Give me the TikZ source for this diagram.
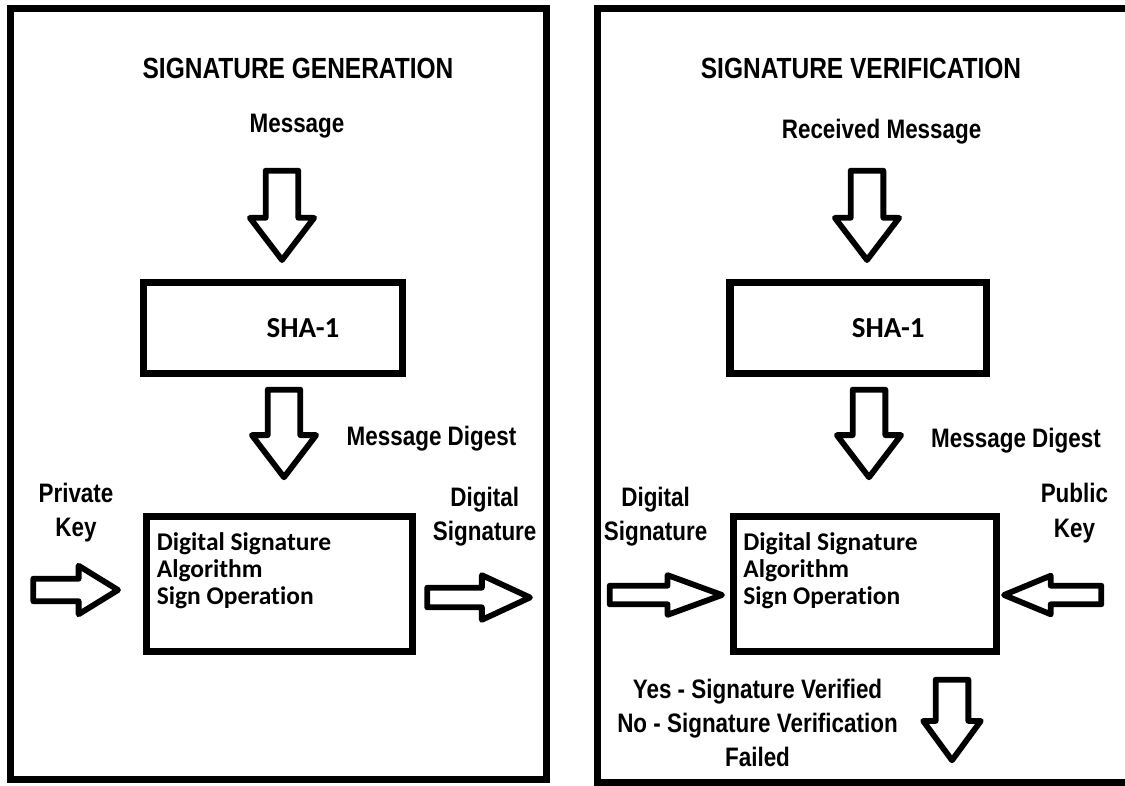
\documentclass[tikz,border=0pt]{standalone}
\usepackage{fontspec}
\setmainfont{Liberation Sans}
\newfontfamily\narrowfont[FakeStretch=0.84]{Liberation Sans}
\newfontfamily\calfont[Ligatures=NoCommon]{Carlito}
\usetikzlibrary{positioning,calc}

\begin{document}
\begin{tikzpicture}[x=0.02cm, y=-0.02cm,
  frame/.style={draw, line width=4.2pt},
  procbox/.style={draw, line width=4pt, inner sep=0pt,
                  font=\calfont\bfseries\fontsize{16.5}{18}\selectfont},
  boxtext/.style={inner sep=0pt, align=left,
                  font=\calfont\bfseries\fontsize{14.5}{15.4}\selectfont},
  title/.style={inner sep=0pt, font=\narrowfont\bfseries\fontsize{16.6}{20}\selectfont},
  lbl/.style={inner sep=0pt, align=center,
              font=\narrowfont\bfseries\fontsize{15.2}{19.5}\selectfont},
  fat/.style args={#1/#2/#3}{draw, line width=3.3pt, line join=round, to path={
    ($(\tikztostart)!#1!90:(\tikztotarget)$)
    -- ($(\tikztotarget)!#3!(\tikztostart) + (\tikztostart)!#1!90:(\tikztotarget) - (\tikztostart)$)
    -- ($(\tikztotarget)!#3!(\tikztostart) + (\tikztostart)!#2!90:(\tikztotarget) - (\tikztostart)$)
    -- (\tikztotarget)
    -- ($(\tikztotarget)!#3!(\tikztostart) + (\tikztostart)!#2!-90:(\tikztotarget) - (\tikztostart)$)
    -- ($(\tikztotarget)!#3!(\tikztostart) + (\tikztostart)!#1!-90:(\tikztotarget) - (\tikztostart)$)
    -- ($(\tikztostart)!#1!-90:(\tikztotarget)$) -- cycle}}]

\useasboundingbox (0,0) rectangle (1125,786);

% two panels
\draw[frame] (10.5,8.5) rectangle (546.5,779.5);
\draw[frame] (597.6,8.5) rectangle (1140,783);

% signature generation
\node[title] (gtitle) at (298,68.5) {SIGNATURE GENERATION};
\node[lbl] (gmsg) at (297,126) {Message};
\node[procbox, minimum width=5.18cm, minimum height=1.82cm] (gsha) at (273,328) {\hspace*{1.2cm}SHA-1};
\node[lbl] (gdig) at (431.5,439) {Message Digest};
\node[procbox, minimum width=5.31cm, minimum height=2.7cm] (gsign) at (279.7,584) {};
\node[boxtext, anchor=north west] (gsigntxt) at ($(gsign.north west)+(13,19)$)
  {Digital Signature\\Algorithm\\Sign Operation};
\node[lbl] (gpriv) at (76,512.5) {Private\\Key};
\node[lbl] (gsigout) at (484.7,516.5) {Digital\\Signature};

% signature verification
\node[title] (vtitle) at (861,68.5) {SIGNATURE VERIFICATION};
\node[lbl] (vmsg) at (881.6,132) {Received Message};
\node[procbox, minimum width=5.13cm, minimum height=1.82cm] (vsha) at (858.2,328) {\hspace*{1.2cm}SHA-1};
\node[lbl] (vdig) at (1016,441) {Message Digest};
\node[procbox, minimum width=5.26cm, minimum height=2.7cm] (vsign) at (865,584) {};
\node[boxtext, anchor=north west] (vsigntxt) at ($(vsign.north west)+(13,19)$)
  {Digital Signature\\Algorithm\\Sign Operation};
\node[lbl] (vsigin) at (655.6,516.5) {Digital\\Signature};
\node[lbl] (vpub) at (1074.4,513) {Public\\Key};
\node[lbl] (vres) at (757.5,723) {Yes - Signature Verified\\No - Signature Verification\\Failed};

% arrow ends
\coordinate (ga1s) at (282,170.7);   \coordinate (ga1e) at (282,260);
\coordinate (ga2s) at (284,389.7);   \coordinate (ga2e) at (284,477.3);
\coordinate (vb1s) at (867,170.7);   \coordinate (vb1e) at (867,260);
\coordinate (vb2s) at (869,389.7);   \coordinate (vb2e) at (869,477.3);
\coordinate (gkeys) at (33.3,590);   \coordinate (gkeye) at (118,590);
\coordinate (gouts) at (427.2,597.5); \coordinate (goute) at (530,597.5);
\coordinate (vdss) at (609.7,595);   \coordinate (vdse) at (722,595);
\coordinate (vpks) at (1101.3,595);  \coordinate (vpke) at (1004,595);
\coordinate (vress) at (952,679.7);  \coordinate (vrese) at (952,760.3);

\foreach \s/\e in {ga1s/ga1e, ga2s/ga2e, vb1s/vb1e, vb2s/vb2e}{
  \draw[fat=9.3pt/18.3pt/24pt] (\s) to (\e);
}
\draw[fat=6.4pt/13.8pt/22.4pt] (gkeys) to (gkeye);
\draw[fat=5.6pt/12.7pt/27.4pt] (gouts) to (goute);
\draw[fat=5.3pt/11.3pt/31pt] (vdss) to (vdse);
\draw[fat=5.3pt/11pt/26.6pt] (vpks) to (vpke);
\draw[fat=9.3pt/16.4pt/22.4pt] (vress) to (vrese);
\end{tikzpicture}
\end{document}
